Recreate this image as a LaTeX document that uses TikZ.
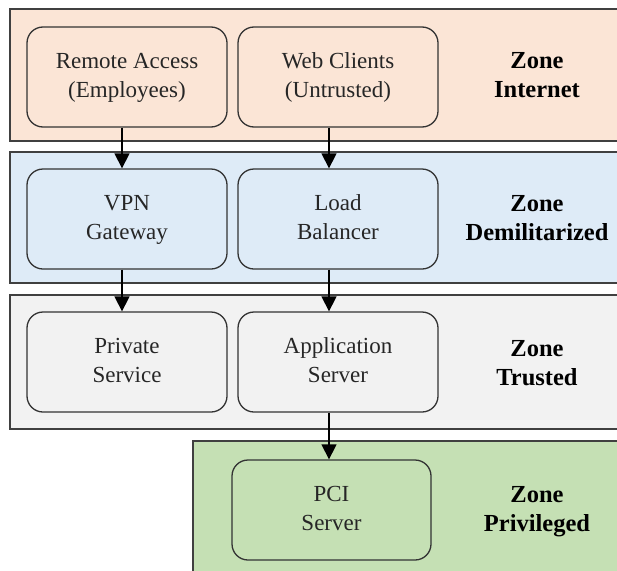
\documentclass[tikz,border=0pt]{standalone}
\usepackage{fontspec}
\setmainfont{LiberationSerif}[Extension=.ttf, UprightFont=*-Regular, BoldFont=*-Bold, ItalicFont=*-Italic, BoldItalicFont=*-BoldItalic]
\usetikzlibrary{arrows.meta}
\definecolor{zinet}{HTML}{FBE5D6}
\definecolor{zdmz}{HTML}{DEEBF7}
\definecolor{ztrust}{HTML}{F2F2F2}
\definecolor{zpriv}{HTML}{C5E0B4}
\newcommand\twol[2]{\strut#1\\\strut#2}
\begin{document}
\begin{tikzpicture}[x=1pt,y=-1pt,
  zone/.style={draw=black!75, line width=1.3pt, anchor=north west, inner sep=0pt, outer sep=0pt},
  box/.style={draw=black!80, line width=1.3pt, rounded corners=16pt, minimum width=200pt, minimum height=100pt, align=center, font=\rmfamily\fontsize{23}{29}\selectfont, text=black!85},
  zlabel/.style={align=center, font=\rmfamily\fontsize{24.5}{29}\selectfont\bfseries, text=black},
  arr/.style={-{Triangle[length=15pt,width=15pt]}, line width=1.3pt, draw=black}]
\useasboundingbox (0,0) rectangle (617,570);
\clip (0,0) rectangle (617,570);
\fill[white] (0,0) rectangle (617,570);
% zones
\node[zone, fill=zinet, minimum width=620pt, minimum height=132pt] (zi) at (10,9) {};
\node[zone, fill=zdmz, minimum width=620pt, minimum height=131pt] (zd) at (10,152) {};
\node[zone, fill=ztrust, minimum width=620pt, minimum height=134pt] (zt) at (10,295) {};
\node[zone, fill=zpriv, minimum width=440pt, minimum height=140pt] (zp) at (193,441) {};
% boxes
\node[box, fill=zinet] (ra) at (127,77) {\twol{Remote Access}{(Employees)}};
\node[box, fill=zinet] (wc) at (338,77) {\twol{Web Clients}{(Untrusted)}};
\node[box, fill=zdmz] (vpn) at (127,219) {\twol{VPN}{Gateway}};
\node[box, fill=zdmz] (lb) at (338,219) {\twol{Load}{Balancer}};
\node[box, fill=ztrust] (ps) at (127,362) {\twol{Private}{Service}};
\node[box, fill=ztrust] (as) at (338,362) {\twol{Application}{Server}};
\node[box, fill=zpriv, minimum width=199pt] (pci) at (331.5,510) {\twol{PCI}{Server}};
% zone labels
\node[zlabel] (li) at (537,77) {\twol{Zone}{Internet}};
\node[zlabel] (ld) at (537,220) {\twol{Zone}{Demilitarized}};
\node[zlabel] (lt) at (537,365) {\twol{Zone}{Trusted}};
\node[zlabel] (lp) at (537,511) {\twol{Zone}{Privileged}};
% arrows
\draw[arr] ([xshift=-5pt]ra.south) -- ([xshift=-5pt]vpn.north);
\draw[arr] ([xshift=-9pt]wc.south) -- ([xshift=-9pt]lb.north);
\draw[arr] ([xshift=-5pt]vpn.south) -- ([xshift=-5pt]ps.north);
\draw[arr] ([xshift=-9pt]lb.south) -- ([xshift=-9pt]as.north);
\draw[arr] ([xshift=-9pt]as.south) -- ([xshift=-2.5pt]pci.north);
\end{tikzpicture}
\end{document}
